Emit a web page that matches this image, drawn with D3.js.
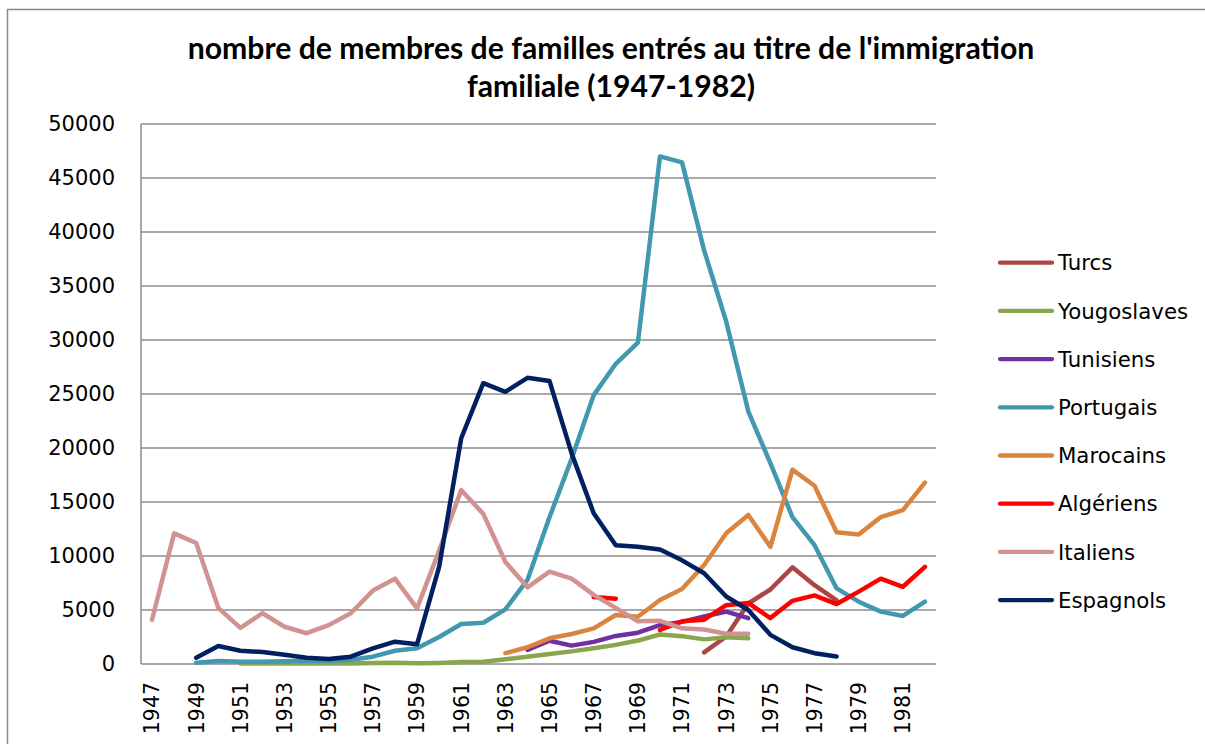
<!DOCTYPE html>
<html>
<head>
<meta charset="utf-8">
<script src="https://cdn.jsdelivr.net/npm/d3@7"></script>
<style>
  body { margin: 0; background: #fff; }
  text { fill: #000; }
</style>
</head>
<body>
<div id="chart"></div>
<script>
var width = 1205,
    height = 744;

// years 1947..1982
var years = d3.range(1947, 1983);
var yTicks = d3.range(0, 50001, 5000);
var xTickYears = years.filter(function (y) { return (y - 1947) % 2 === 0; });

var seriesNames = ["Turcs", "Yougoslaves", "Tunisiens", "Portugais", "Marocains", "Algériens", "Italiens", "Espagnols"];
var seriesColors = ["#AA4643", "#89A54E", "#7030A0", "#4198AF", "#DB843D", "#FF0000", "#D19392", "#002060"];

var turcs = [1972, [1080, 2550, 5600, 6900, 8950, 7300, 5900]];
var yougoslaves = [1951, [50, 50, 50, 50, 50, 50, 100, 120, 60, 100, 180, 200, 430, 680, 930, 1170, 1450, 1770, 2170, 2730, 2580, 2280, 2470, 2380]];
var tunisiens = [1964, [1300, 2150, 1700, 2050, 2600, 2900, 3600, 3900, 4400, 4850, 4250]];
var portugais = [1949, [120, 280, 200, 200, 250, 300, 300, 400, 680, 1230, 1450, 2500, 3700, 3820, 5060, 7780, 13600, 19000,
    24900, 27800, 29750, 47000, 46450, 38300, 31700, 23400, 18600, 13600, 11000, 7000, 5770, 4850, 4450, 5770]];
var marocains = [1963, [1000, 1550, 2380, 2780, 3300, 4540, 4380, 5930, 6950, 9170, 12100, 13800, 10850, 18000, 16500, 12200,
    12000, 13600, 14250, 16800]];
var algeriens = [1967, [6200, 6050, null, 3150, 3950, 4100, 5450, 5650, 4250, 5850, 6350, 5550, 6700, 7900, 7150, 9000]];
var italiens = [1947, [4100, 12100, 11200, 5200, 3350, 4700, 3450, 2850, 3600, 4700, 6800, 7900, 5150, 10500, 16100, 13900,
    9450, 7100, 8550, 7900, 6400, 5200, 3950, 4000, 3300, 3200, 2800, 2800]];
var espagnols = [1949, [580, 1670, 1230, 1110, 860, 580, 460, 680, 1450, 2070, 1820, 9000, 20900, 26000, 25200, 26500, 26200,
    19500, 13950, 11000, 10850, 10600, 9600, 8400, 6250, 5000, 2700, 1550, 1000, 700]];

var seriesData = [turcs, yougoslaves, tunisiens, portugais, marocains, algeriens, italiens, espagnols];

var svg = d3.select("#chart").append("svg")
    .attr("width", width)
    .attr("height", height);

svg.append("rect")
    .attr("width", width).attr("height", height)
    .attr("fill", "#fff");

// chart border
svg.append("rect")
    .attr("x", 7.5).attr("y", 9.5)
    .attr("width", 1210).attr("height", 800)
    .attr("fill", "none")
    .attr("stroke", "#898989")
    .attr("stroke-width", 1.5);

var plotLeft = 141, plotRight = 936, plotTop = 124, plotBottom = 664;

var x = d3.scaleBand()
    .domain(years)
    .range([plotLeft, plotRight]);

var y = d3.scaleLinear()
    .domain([0, 50000])
    .range([plotBottom, plotTop]);

// gridlines
svg.append("g").selectAll("line")
    .data(yTicks.slice(1))
    .enter().append("line")
    .attr("x1", plotLeft).attr("x2", plotRight)
    .attr("y1", function (d) { return y(d); })
    .attr("y2", function (d) { return y(d); })
    .attr("stroke", "#8c8c8c")
    .attr("stroke-width", 1.5);

// axes lines
svg.append("line")
    .attr("x1", plotLeft).attr("x2", plotLeft)
    .attr("y1", plotTop).attr("y2", plotBottom)
    .attr("stroke", "#8c8c8c").attr("stroke-width", 1.5);
svg.append("line")
    .attr("x1", plotLeft).attr("x2", plotRight)
    .attr("y1", plotBottom).attr("y2", plotBottom)
    .attr("stroke", "#8c8c8c").attr("stroke-width", 1.5);

var yAxis = svg.append("g")
    .attr("transform", "translate(" + plotLeft + ",0)")
    .call(d3.axisLeft(y).tickValues(yTicks).tickSize(0).tickPadding(26).tickFormat(d3.format("d")));
yAxis.select(".domain").remove();
yAxis.selectAll("text")
    .attr("font-family", "DejaVu Sans")
    .attr("font-size", "21px")
    .attr("fill", "#000");

var xAxis = svg.append("g")
    .attr("transform", "translate(0," + plotBottom + ")")
    .call(d3.axisBottom(x).tickValues(xTickYears).tickSize(0));
xAxis.select(".domain").remove();
xAxis.selectAll("text")
    .attr("font-family", "DejaVu Sans")
    .attr("font-size", "20.5px")
    .attr("fill", "#000")
    .attr("text-anchor", "end")
    .attr("transform", "rotate(-90)")
    .attr("x", -18)
    .attr("y", 0)
    .attr("dy", "0.36em");

// lines
var line = d3.line()
    .defined(function (d) { return d.v !== null; })
    .x(function (d) { return x(d.year) + x.bandwidth() / 2; })
    .y(function (d) { return y(d.v); });

seriesData.forEach(function (s, i) {
    var pts = s[1].map(function (v, k) { return {year: s[0] + k, v: v}; });
    svg.append("path")
        .datum(pts)
        .attr("d", line)
        .attr("fill", "none")
        .attr("stroke", seriesColors[i])
        .attr("stroke-width", 4.5)
        .attr("stroke-linejoin", "round")
        .attr("stroke-linecap", "round");
});

// legend
var legend = svg.selectAll(".legend")
    .data(seriesNames)
    .enter().append("g")
    .attr("transform", function (d, i) {
        return "translate(998," + (262.7 + i * 48.2) + ")";
    });
legend.append("line")
    .attr("x1", 2).attr("x2", 54)
    .attr("stroke", function (d, i) { return seriesColors[i]; })
    .attr("stroke-width", 4.3)
    .attr("stroke-linecap", "round");
legend.append("text")
    .attr("x", 60)
    .attr("dy", "0.36em")
    .attr("font-family", "DejaVu Sans")
    .attr("font-size", "21.3px")
    .text(function (d) { return d; });

// title, fitted to the reference width
var titleLines = ["nombre de membres de familles entrés au titre de l'immigration", "familiale (1947-1982)"];
var title = svg.append("g");
var t1 = title.append("text")
    .attr("x", 611).attr("y", 59)
    .attr("text-anchor", "middle")
    .attr("font-family", "Lato, 'Open Sans', sans-serif")
    .attr("font-weight", "bold")
    .attr("font-size", "26px")
    .text(titleLines[0]);
var fs = 26 * 847 / t1.node().getComputedTextLength();
t1.attr("font-size", fs + "px");
title.append("text")
    .attr("x", 611).attr("y", 97)
    .attr("text-anchor", "middle")
    .attr("font-family", "Lato, 'Open Sans', sans-serif")
    .attr("font-weight", "bold")
    .attr("font-size", fs + "px")
    .text(titleLines[1]);
</script>
</body>
</html>
